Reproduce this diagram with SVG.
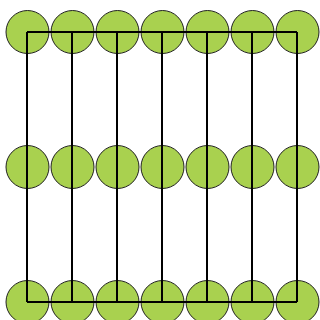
<svg xmlns="http://www.w3.org/2000/svg" width="320" height="320" viewBox="0 0 320 320">
<style>
.n{fill:#a9d14f;stroke:#222;stroke-width:1}
.e{fill:none;stroke:#000;stroke-width:2}
</style>
<rect width="320" height="320" fill="#fff"/>
<g id="nodes">
<g id="r0c0"><circle class="n" cx="27.5" cy="32" r="21.5"/></g>
<g id="r0c1"><circle class="n" cx="72.5" cy="32" r="21.5"/></g>
<g id="r0c2"><circle class="n" cx="117.5" cy="32" r="21.5"/></g>
<g id="r0c3"><circle class="n" cx="162.5" cy="32" r="21.5"/></g>
<g id="r0c4"><circle class="n" cx="207.5" cy="32" r="21.5"/></g>
<g id="r0c5"><circle class="n" cx="252.5" cy="32" r="21.5"/></g>
<g id="r0c6"><circle class="n" cx="297.5" cy="32" r="21.5"/></g>
<g id="r1c0"><circle class="n" cx="27.5" cy="167" r="21.5"/></g>
<g id="r1c1"><circle class="n" cx="72.5" cy="167" r="21.5"/></g>
<g id="r1c2"><circle class="n" cx="117.5" cy="167" r="21.5"/></g>
<g id="r1c3"><circle class="n" cx="162.5" cy="167" r="21.5"/></g>
<g id="r1c4"><circle class="n" cx="207.5" cy="167" r="21.5"/></g>
<g id="r1c5"><circle class="n" cx="252.5" cy="167" r="21.5"/></g>
<g id="r1c6"><circle class="n" cx="297.5" cy="167" r="21.5"/></g>
<g id="r2c0"><circle class="n" cx="27.5" cy="302" r="21.5"/></g>
<g id="r2c1"><circle class="n" cx="72.5" cy="302" r="21.5"/></g>
<g id="r2c2"><circle class="n" cx="117.5" cy="302" r="21.5"/></g>
<g id="r2c3"><circle class="n" cx="162.5" cy="302" r="21.5"/></g>
<g id="r2c4"><circle class="n" cx="207.5" cy="302" r="21.5"/></g>
<g id="r2c5"><circle class="n" cx="252.5" cy="302" r="21.5"/></g>
<g id="r2c6"><circle class="n" cx="297.5" cy="302" r="21.5"/></g>
</g>
<g id="connectors" class="e">
<path d="M27 32H297M27 302H297"/>
<path d="M27 32V302M72 32V302M117 32V302M162 32V302M207 32V302M252 32V302M297 32V302"/>
</g>
</svg>
